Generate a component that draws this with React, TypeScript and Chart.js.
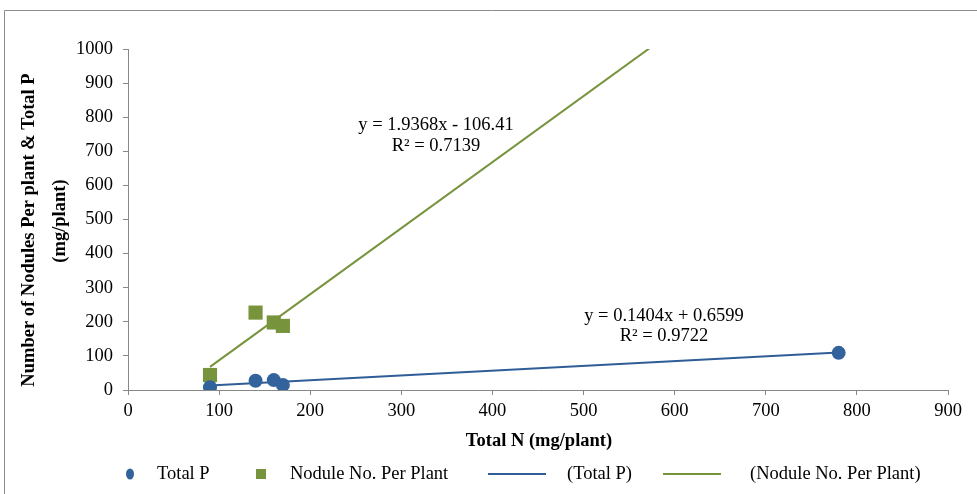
import React, { useEffect, useRef } from "react";
import { Chart, registerables } from "chart.js";

Chart.register(...registerables);

// Data
const totalN: number[] = [90, 140, 160, 170, 780];
const totalP: number[] = [8, 27, 29, 15, 109];
const noduleN: number[] = [90, 140, 160, 170];
const noduleCount: number[] = [44, 227, 198, 188];

// Trendline endpoints (as seen in the picture)
const trendPX: number[] = [90, 780];
const trendPY: number[] = [13.3, 110.2];
const trendNX: number[] = [90, 600];
const trendNY: number[] = [67.9, 1055.7];

const xTicks: number[] = [0, 100, 200, 300, 400, 500, 600, 700, 800, 900];
const yTicks: number[] = [0, 100, 200, 300, 400, 500, 600, 700, 800, 900, 1000];

const eqNodule: string[] = ["y = 1.9368x - 106.41", "R² = 0.7139"];
const eqP: string[] = ["y = 0.1404x + 0.6599", "R² = 0.9722"];

const legendLabels: string[] = ["Total P", "Nodule No. Per Plant", "(Total P)", "(Nodule No. Per Plant)"];

const yTitle: string[] = ["Number of Nodules Per plant & Total P", "(mg/plant)"];
const xTitle = "Total N (mg/plant)";

const BLUE = "#33639C";
const BLUE_LINE = "#2F5D97";
const GREEN = "#77933C";
const AXIS = "#878787";
const FONT = "'Liberation Serif', 'Times New Roman', serif";

const overlay = {
  id: "overlay",
  afterDraw(chart: any) {
    const ctx = chart.ctx as CanvasRenderingContext2D;
    ctx.save();
    // frame
    ctx.strokeStyle = "#8c8c8c";
    ctx.lineWidth = 1;
    ctx.beginPath();
    ctx.moveTo(4.5, 520);
    ctx.lineTo(4.5, 10.5);
    ctx.lineTo(990, 10.5);
    ctx.stroke();

    ctx.fillStyle = "#000";
    ctx.textAlign = "center";
    ctx.textBaseline = "middle";

    // y title
    ctx.font = `bold 18.5px ${FONT}`;
    ctx.save();
    ctx.translate(29, 230);
    ctx.rotate(-Math.PI / 2);
    ctx.fillText(yTitle[0], 0, 0);
    ctx.restore();
    ctx.save();
    ctx.translate(60, 221);
    ctx.rotate(-Math.PI / 2);
    ctx.fillText(yTitle[1], 0, 0);
    ctx.restore();

    // x title
    ctx.fillText(xTitle, 539, 441);

    // equations
    ctx.font = `18.5px ${FONT}`;
    ctx.fillText(eqNodule[0], 436, 125);
    ctx.fillText(eqNodule[1], 436, 146);
    ctx.fillText(eqP[0], 664, 316);
    ctx.fillText(eqP[1], 664, 336);

    // legend
    const ly = 474;
    ctx.textAlign = "left";
    ctx.fillStyle = BLUE;
    ctx.beginPath();
    ctx.ellipse(130, ly, 4, 5.5, 0, 0, Math.PI * 2);
    ctx.fill();
    ctx.fillStyle = GREEN;
    ctx.fillRect(256, ly - 5, 10, 10);
    ctx.lineWidth = 2;
    ctx.strokeStyle = BLUE_LINE;
    ctx.beginPath();
    ctx.moveTo(488, ly);
    ctx.lineTo(546, ly);
    ctx.stroke();
    ctx.strokeStyle = GREEN;
    ctx.beginPath();
    ctx.moveTo(663, ly);
    ctx.lineTo(721, ly);
    ctx.stroke();
    ctx.fillStyle = "#000";
    ctx.fillText(legendLabels[0], 157, ly);
    ctx.fillText(legendLabels[1], 290, ly);
    ctx.fillText(legendLabels[2], 567, ly);
    ctx.fillText(legendLabels[3], 750, ly);
    ctx.restore();
  },
};

export default function App() {
  const ref = useRef<HTMLCanvasElement | null>(null);

  useEffect(() => {
    if (!ref.current) return;
    const chart = new Chart(ref.current, {
      type: "scatter",
      data: {
        datasets: [
          {
            type: "line",
            label: legendLabels[2],
            data: trendPX.map((x, i) => ({ x, y: trendPY[i] })),
            borderColor: BLUE_LINE,
            borderWidth: 2,
            pointRadius: 0,
            showLine: true,
            order: 3,
          },
          {
            type: "line",
            label: legendLabels[3],
            data: trendNX.map((x, i) => ({ x, y: trendNY[i] })),
            borderColor: GREEN,
            borderWidth: 2,
            pointRadius: 0,
            showLine: true,
            order: 4,
          },
          {
            label: legendLabels[1],
            data: noduleN.map((x, i) => ({ x, y: noduleCount[i] })),
            pointStyle: "rect",
            pointRadius: 10,
            backgroundColor: GREEN,
            borderColor: GREEN,
            borderWidth: 0,
            order: 2,
          },
          {
            label: legendLabels[0],
            data: totalN.map((x, i) => ({ x, y: totalP[i] })),
            pointStyle: "circle",
            pointRadius: 7,
            backgroundColor: BLUE,
            borderColor: BLUE,
            borderWidth: 0,
            order: 1,
          },
        ],
      },
      options: {
        responsive: false,
        animation: false,
        layout: { padding: { left: 0, right: 29, top: 49, bottom: 0 } },
        plugins: {
          legend: { display: false },
          tooltip: { enabled: false },
        },
        scales: {
          x: {
            type: "linear",
            min: 0,
            max: 900,
            afterBuildTicks: (s: any) => {
              s.ticks = xTicks.map((v) => ({ value: v }));
            },
            afterFit: (s: any) => {
              s.height = 104;
            },
            grid: { drawOnChartArea: false, drawTicks: true, tickLength: 5, color: AXIS },
            border: { display: true, color: AXIS, width: 1 },
            ticks: {
              color: "#000",
              font: { family: FONT, size: 18.5 },
              padding: 5,
              maxRotation: 0,
              callback: (v: any) => String(v),
            },
          },
          y: {
            type: "linear",
            min: 0,
            max: 1000,
            afterBuildTicks: (s: any) => {
              s.ticks = yTicks.map((v) => ({ value: v }));
            },
            afterFit: (s: any) => {
              s.width = 128;
            },
            grid: { drawOnChartArea: false, drawTicks: true, tickLength: 5, color: AXIS },
            border: { display: true, color: AXIS, width: 1 },
            ticks: {
              color: "#000",
              font: { family: FONT, size: 18.5 },
              padding: 10,
              callback: (v: any) => String(v),
            },
          },
        },
      },
      plugins: [overlay],
    });
    return () => chart.destroy();
  }, []);

  return (
    <div style={{ position: "fixed", left: 0, top: 0, width: 977, height: 494, background: "#fff" }}>
      <canvas ref={ref} width={977} height={494} style={{ width: 977, height: 494 }} />
    </div>
  );
}
